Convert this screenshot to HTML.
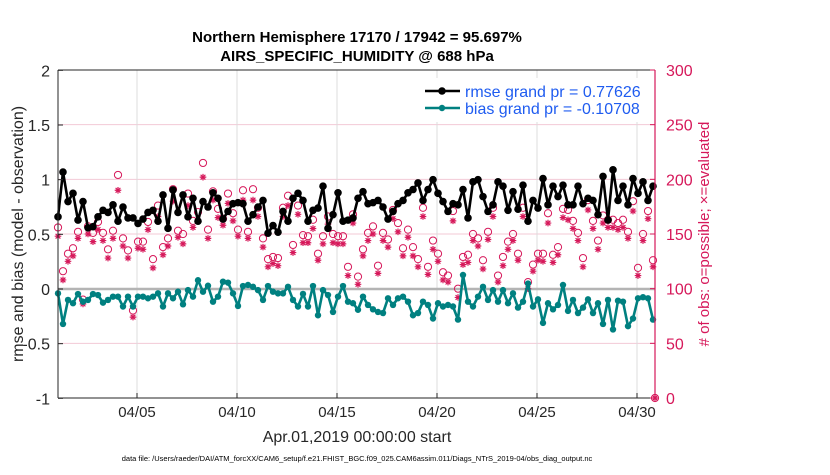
<!DOCTYPE html>
<html><head><meta charset="utf-8"><style>
body{margin:0;background:#fff;}
svg text{font-family:"Liberation Sans",sans-serif;}
</style></head><body>
<svg id="chart" width="830" height="470" xmlns="http://www.w3.org/2000/svg">
<rect x="0" y="0" width="830" height="470" fill="#fff"/>
<g id="grid"></g><g id="marks"></g><g id="axes"></g>
</svg>
<script>
const xTickLabels=["04/05","04/10","04/15","04/20","04/25","04/30"];
const xTickDays=[4,9,14,19,24,29];
const leftTicks=[-1,-0.5,0,0.5,1,1.5,2];
const rightTicks=[0,50,100,150,200,250,300];
const rmse=[0.66,1.07,0.80,0.875,0.63,0.80,0.56,0.57,0.66,0.72,0.70,0.77,0.62,0.75,0.65,0.65,0.60,0.64,0.70,0.72,0.62,0.86,0.555,0.906,0.70,0.86,0.66,0.83,0.62,0.80,0.75,0.88,
0.83,0.64,0.71,0.78,0.79,0.78,0.62,0.68,0.75,0.81,0.51,0.58,0.52,0.71,0.62,0.83,0.875,0.81,0.62,0.72,0.74,0.94,0.555,0.68,0.88,0.62,0.63,0.65,0.83,0.89,
0.78,0.79,0.81,0.75,0.64,0.71,0.78,0.81,0.88,0.91,0.97,0.81,0.91,1.0,0.875,0.80,0.71,0.78,0.77,0.91,0.65,0.98,1.0,0.845,0.71,0.77,0.98,0.94,0.72,0.89,
0.73,0.95,0.62,0.81,0.74,1.01,0.77,0.94,0.845,0.95,0.77,0.77,0.94,0.78,0.83,0.81,0.68,1.03,0.63,1.09,0.81,0.94,0.77,1.01,0.875,0.98,0.81,0.94];
const bias=[-0.04,-0.32,-0.10,-0.13,-0.046,-0.116,-0.10,-0.046,-0.055,-0.125,-0.10,-0.07,-0.07,-0.16,-0.07,-0.16,-0.07,-0.07,-0.085,-0.07,-0.04,-0.16,-0.04,-0.085,-0.025,-0.14,-0.01,-0.07,0.08,-0.025,0.03,-0.116,
-0.07,0.067,0.058,-0.04,-0.155,0.027,0.037,0.02,-0.01,-0.10,0.027,-0.025,-0.04,-0.04,0.02,-0.10,-0.16,-0.045,-0.16,0.027,-0.24,-0.01,-0.055,-0.21,-0.07,0.027,-0.116,-0.13,-0.19,-0.07,
-0.146,-0.186,-0.21,-0.22,-0.085,-0.146,-0.085,-0.07,-0.116,-0.24,-0.22,-0.116,-0.146,-0.27,-0.13,-0.16,-0.146,-0.16,-0.28,0.128,-0.116,-0.16,-0.07,0.02,-0.10,-0.01,-0.116,-0.01,-0.13,-0.04,
-0.17,-0.116,0.05,-0.16,-0.095,-0.31,-0.13,-0.186,-0.146,0.037,-0.20,-0.10,-0.22,-0.17,-0.095,-0.22,-0.13,-0.32,-0.10,-0.37,-0.107,-0.116,-0.34,-0.27,-0.085,-0.075,-0.085,-0.28];
const possible=[156,116,132,137,152,90,157,151,161,151,136,153,204,146,135,80,143,143,161,127,176,138,146,191,153,150,187,162,170,215,154,189,
173,164,187,169,154,190,152,191,174,146,127,129,128,174,185,140,176,149,148,163,132,148,166,150,148,148,120,168,111,136,
151,157,121,151,145,172,160,137,154,138,127,174,120,144,132,115,112,171,100,129,131,150,146,126,152,174,112,129,143,150,
132,174,106,122,132,132,169,131,138,173,172,162,151,128,181,162,144,167,163,163,160,163,152,180,119,150,171,126,0];
const evaluated=[148,108,125,130,146,86,150,143,154,144,128,146,190,139,128,74,137,136,154,119,166,131,139,180,147,141,176,156,162,202,146,181,
165,158,178,162,148,181,146,181,166,138,120,123,121,166,176,133,168,142,142,155,126,141,159,142,141,141,112,160,104,130,
144,150,114,144,138,164,152,130,147,130,120,166,113,136,125,108,106,162,92,122,124,144,139,118,145,166,106,121,136,144,
126,166,100,116,126,125,160,124,131,165,163,155,144,120,172,155,136,160,156,156,154,156,146,171,112,144,164,120,0];

const NS='http://www.w3.org/2000/svg';
const X0=57,PX_PER_DAY=20,YL0=289,YL_UNIT=109.33,YR0=398,YR_UNIT=328/300;
function xDay(d){return X0+PX_PER_DAY*d;}
function xIdx(i){return xDay(0.05+0.25*i);}
function yL(v){return YL0-v*YL_UNIT;}
function yR(c){return YR0-c*YR_UNIT;}
function mk(tag,attrs,parent){const e=document.createElementNS(NS,tag);for(const k in attrs)e.setAttribute(k,attrs[k]);parent.appendChild(e);return e;}
const grid=document.getElementById('grid'),marks=document.getElementById('marks'),axes=document.getElementById('axes');

rightTicks.forEach(t=>{if(t===0||t===300)return;
 const l=mk('line',{x1:58,x2:655,y1:yR(t),y2:yR(t),stroke:'#f3c9d6','stroke-width':1},grid);
 
 });
xTickDays.forEach(d=>{
 const l=mk('line',{x1:xDay(d),x2:xDay(d),y1:70,y2:398,stroke:'#dcdcdc','stroke-width':1},grid);
 
 });
const zl=mk('line',{x1:58,x2:655,y1:yL(0),y2:yL(0),stroke:'#b4b4b4','stroke-width':2.5},grid);



possible.forEach((c,i)=>{
 const x=i<rmse.length?xIdx(i):655;
 const o=mk('circle',{cx:x,cy:yR(c),r:3.6,fill:'none',stroke:'#d6185a','stroke-width':1},marks);
 
 
 const y=yR(evaluated[i]),a=3.3,b=2.4;
 const s=mk('path',{d:`M${x-a},${y}H${x+a}M${x},${y-a}V${y+a}M${x-b},${y-b}L${x+b},${y+b}M${x-b},${y+b}L${x+b},${y-b}`,stroke:'#d6185a','stroke-width':1.2,fill:'none'},marks);
 
 
});
function series(vals,color,name,r){
 const p=mk('polyline',{points:vals.map((v,i)=>xIdx(i)+','+yL(v)).join(' '),fill:'none',stroke:color,'stroke-width':2.6,'stroke-linejoin':'round'},marks);
 
 
 vals.forEach((v,i)=>{const c=mk('circle',{cx:xIdx(i),cy:yL(v),r:r,fill:color},marks);
  
  });
}
series(rmse,'#000','rmse',3.8);
series(bias,'#008080','bias',3.2);

mk('line',{x1:58,x2:655,y1:70,y2:70,stroke:'#262626','stroke-width':1},axes);
mk('line',{x1:58,x2:655,y1:398,y2:398,stroke:'#262626','stroke-width':1},axes);
mk('line',{x1:58,x2:58,y1:70,y2:398,stroke:'#262626','stroke-width':1},axes);
mk('line',{x1:655,x2:655,y1:70,y2:398,stroke:'#d6185a','stroke-width':1.2},axes);
leftTicks.forEach(t=>{
 mk('line',{x1:58,x2:63,y1:yL(t),y2:yL(t),stroke:'#262626'},axes);
 const tx=mk('text',{x:50,y:yL(t)+6,'font-size':16,'text-anchor':'end',fill:'#262626'},axes);
 tx.textContent=String(t);
 
 });
rightTicks.forEach(t=>{
 mk('line',{x1:650,x2:655,y1:yR(t),y2:yR(t),stroke:'#d6185a'},axes);
 const tx=mk('text',{x:666,y:yR(t)+6,'font-size':16,fill:'#d6185a'},axes);
 tx.textContent=String(t);
 
 });
xTickDays.forEach((d,k)=>{
 mk('line',{x1:xDay(d),x2:xDay(d),y1:393,y2:398,stroke:'#262626'},axes);
 const tx=mk('text',{x:xDay(d),y:417,'font-size':15,'text-anchor':'middle',fill:'#262626'},axes);
 tx.textContent=xTickLabels[k];
 
 });
</script>
<svg style="position:absolute;left:0;top:0" width="830" height="470" xmlns="http://www.w3.org/2000/svg">
<text x="357" y="42" font-size="15" font-weight="bold" text-anchor="middle" fill="#000" font-family="Liberation Sans">Northern Hemisphere 17170 / 17942 = 95.697%</text>
<text x="357" y="61" font-size="15" font-weight="bold" text-anchor="middle" fill="#000" font-family="Liberation Sans">AIRS_SPECIFIC_HUMIDITY @ 688 hPa</text>
<text transform="translate(23,234) rotate(-90)" font-size="16" text-anchor="middle" fill="#262626" font-family="Liberation Sans">rmse and bias (model - observation)</text>
<text transform="translate(709,234) rotate(-90)" font-size="15" text-anchor="middle" fill="#d6185a" font-family="Liberation Sans">#  of obs: o=possible; ×=evaluated</text>
<text x="357" y="442" font-size="16" text-anchor="middle" fill="#262626" font-family="Liberation Sans">Apr.01,2019 00:00:00 start</text>
<text x="357" y="461" font-size="7.5" text-anchor="middle" fill="#000" font-family="Liberation Sans">data file: /Users/raeder/DAI/ATM_forcXX/CAM6_setup/f.e21.FHIST_BGC.f09_025.CAM6assim.011/Diags_NTrS_2019-04/obs_diag_output.nc</text>
<g>
<rect x="418" y="78" width="230" height="44" fill="#fff"/>
<line x1="425" x2="460" y1="91" y2="91" stroke="#000" stroke-width="2.6"/><circle cx="442" cy="91" r="3.8" fill="#000"/>
<text x="465" y="97" font-size="16" fill="#1f5cf0" font-family="Liberation Sans">rmse grand pr = 0.77626</text>
<line x1="425" x2="460" y1="108" y2="108" stroke="#008080" stroke-width="2.6"/><circle cx="442" cy="108" r="3.2" fill="#008080"/>
<text x="465" y="114" font-size="16" fill="#1f5cf0" font-family="Liberation Sans">bias grand pr = -0.10708</text>
</g>
</svg>
</body></html>
